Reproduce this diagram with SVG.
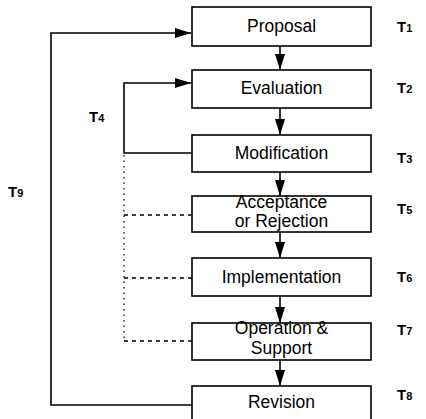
<svg xmlns="http://www.w3.org/2000/svg" width="426" height="419" viewBox="0 0 426 419">
<style>
.box{fill:#fff;stroke:#000;stroke-width:1.6}
.lbl{font-family:"Liberation Sans",Arial,Helvetica,sans-serif;font-size:17.5px;text-anchor:middle;fill:#000}
.t{font-family:"Liberation Sans",Arial,Helvetica,sans-serif;font-size:15px;font-weight:bold;fill:#000}
.sub{font-size:11px}
.ln{fill:none;stroke:#000;stroke-width:1.6}
.dot{fill:none;stroke:#000;stroke-width:1.2;stroke-dasharray:1.5 4}
.dash{fill:none;stroke:#000;stroke-width:1.3;stroke-dasharray:4 4}
</style>
<defs>
<marker id="ahl" viewBox="0 0 16 10" refX="16" refY="5" markerWidth="16" markerHeight="10" markerUnits="userSpaceOnUse" orient="auto">
<path d="M0,0 L16,5 L0,10 z" fill="#000"/>
</marker>
</defs>
<g id="connectors">
<line class="ln" x1="280" y1="46" x2="280" y2="70" marker-end="url(#ahl)"/>
<line class="ln" x1="280" y1="108" x2="280" y2="135" marker-end="url(#ahl)"/>
<line class="ln" x1="280" y1="172" x2="280" y2="196" marker-end="url(#ahl)"/>
<line class="ln" x1="280" y1="232" x2="280" y2="258" marker-end="url(#ahl)"/>
<line class="ln" x1="280" y1="296" x2="280" y2="323" marker-end="url(#ahl)"/>
<line class="ln" x1="280" y1="360" x2="280" y2="386" marker-end="url(#ahl)"/>
<polyline class="ln" points="192,405 51,405 51,33 191,33" marker-end="url(#ahl)"/>
<polyline class="ln" points="192,153 124,153 124,83 191,83" marker-end="url(#ahl)"/>
<line class="dot" x1="124" y1="155" x2="124" y2="341"/>
<line class="dash" x1="124" y1="215" x2="192" y2="215"/>
<line class="dash" x1="124" y1="278" x2="192" y2="278"/>
<line class="dash" x1="124" y1="341" x2="192" y2="341"/>
</g>
<g id="proposal"><rect class="box" x="192" y="7" width="179" height="39"/><text class="lbl" x="281.5" y="32">Proposal</text></g>
<g id="evaluation"><rect class="box" x="192" y="70" width="179" height="38"/><text class="lbl" x="281.5" y="94">Evaluation</text></g>
<g id="modification"><rect class="box" x="192" y="135" width="179" height="37"/><text class="lbl" x="281.5" y="159">Modification</text></g>
<g id="acceptance"><rect class="box" x="192" y="196" width="179" height="36"/><text class="lbl" x="281.5" y="208">Acceptance</text><text class="lbl" x="281.5" y="227">or Rejection</text></g>
<g id="implementation"><rect class="box" x="192" y="258" width="179" height="38"/><text class="lbl" x="281.5" y="283">Implementation</text></g>
<g id="operation"><rect class="box" x="192" y="323" width="179" height="37"/><text class="lbl" x="281.5" y="334">Operation &amp;</text><text class="lbl" x="281.5" y="354">Support</text></g>
<g id="revision"><rect class="box" x="192" y="386" width="179" height="40"/><text class="lbl" x="281.5" y="408">Revision</text></g>
<g id="labels">
<text class="t" x="397" y="32">T<tspan class="sub">1</tspan></text>
<text class="t" x="397" y="93">T<tspan class="sub">2</tspan></text>
<text class="t" x="397" y="163">T<tspan class="sub">3</tspan></text>
<text class="t" x="89" y="122">T<tspan class="sub">4</tspan></text>
<text class="t" x="397" y="214">T<tspan class="sub">5</tspan></text>
<text class="t" x="397" y="282">T<tspan class="sub">6</tspan></text>
<text class="t" x="397" y="335">T<tspan class="sub">7</tspan></text>
<text class="t" x="397" y="400">T<tspan class="sub">8</tspan></text>
<text class="t" x="8" y="197">T<tspan class="sub">9</tspan></text>
</g>
</svg>
